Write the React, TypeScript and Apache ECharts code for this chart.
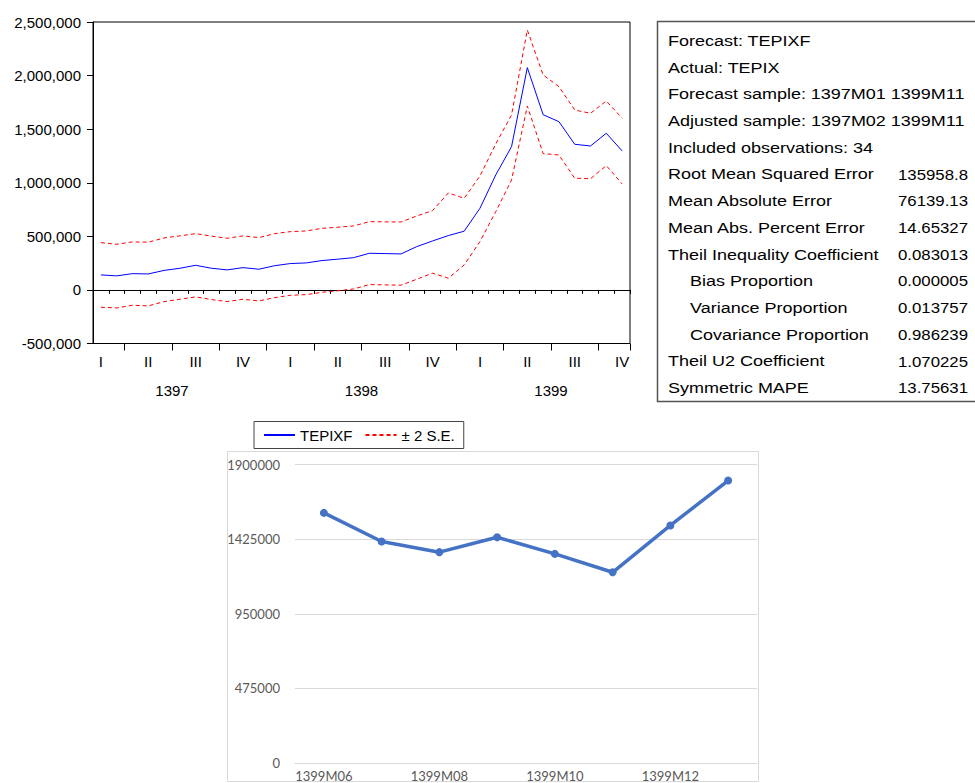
import React, { useEffect, useRef } from "react";
import * as echarts from "echarts";

// ---------- Data ----------
const months = [
  "1397M02", "1397M03", "1397M04", "1397M05", "1397M06", "1397M07", "1397M08", "1397M09", "1397M10", "1397M11", "1397M12",
  "1398M01", "1398M02", "1398M03", "1398M04", "1398M05", "1398M06", "1398M07", "1398M08", "1398M09", "1398M10", "1398M11", "1398M12",
  "1399M01", "1399M02", "1399M03", "1399M04", "1399M05", "1399M06", "1399M07", "1399M08", "1399M09", "1399M10", "1399M11",
];

const forecast = [
  140000, 131000, 152000, 149000, 182000, 202000, 230000, 202000, 187000, 208000, 193000,
  226000, 246000, 252000, 274000, 287000, 301000, 342000, 339000, 336000, 404000, 457000, 507000,
  548000, 762000, 1073000, 1337000, 2074000, 1635000, 1570000, 1359000, 1343000, 1462000, 1297000,
];

const upperBand = [
  441000, 426000, 448000, 445000, 485000, 504000, 525000, 502000, 482000, 504000, 488000,
  525000, 544000, 550000, 575000, 585000, 597000, 637000, 635000, 634000, 690000, 740000, 905000,
  855000, 1063000, 1362000, 1632000, 2425000, 2006000, 1897000, 1679000, 1648000, 1763000, 1602000,
];

const lowerBand = [
  -162000, -168000, -143000, -149000, -109000, -87000, -65000, -90000, -109000, -87000, -103000,
  -72000, -50000, -44000, -22000, -8000, 9000, 50000, 47000, 44000, 100000, 156000, 109000,
  233000, 451000, 730000, 1026000, 1716000, 1272000, 1259000, 1042000, 1038000, 1160000, 989000,
];

const quarterNames = ["I", "II", "III", "IV"];
const yearTicks = [5, 17, 29];
const yearNames = ["1397", "1398", "1399"];

const nextMonths = ["1399M06", "1399M07", "1399M08", "1399M09", "1399M10", "1399M11", "1399M12", "1400M01"];
const nextForecast = [1592000, 1410000, 1342000, 1437000, 1331000, 1214000, 1512000, 1798000];

const statLabels = [
  "Forecast: TEPIXF",
  "Actual: TEPIX",
  "Forecast sample: 1397M01 1399M11",
  "Adjusted sample: 1397M02 1399M11",
  "Included observations: 34",
  "Root Mean Squared Error",
  "Mean Absolute Error",
  "Mean Abs. Percent Error",
  "Theil Inequality Coefficient",
  "Bias Proportion",
  "Variance Proportion",
  "Covariance Proportion",
  "Theil U2 Coefficient",
  "Symmetric MAPE",
];
const statValues = [
  "", "", "", "", "",
  "135958.8", "76139.13", "14.65327", "0.083013", "0.000005", "0.013757", "0.986239", "1.070225", "13.75631",
];
const indentedRows = [9, 10, 11];

// ---------- Styling ----------
const FONT = "'Liberation Sans', Arial, Helvetica, sans-serif";
const XL_FONT = "Lato, 'Open Sans', sans-serif";

export default function App() {
  const ref = useRef<HTMLDivElement>(null);

  useEffect(() => {
    document.body.style.margin = "0";
    if (!ref.current) return;
    const chart = echarts.init(ref.current, undefined, { renderer: "svg" });

    const topGrid = { left: 93, top: 22, width: 537, height: 321.5 };

    const statTexts: any[] = [];
    statLabels.forEach((label, i) => {
      const y = 41 + i * 26.7;
      statTexts.push({
        type: "text",
        x: indentedRows.includes(i) ? 690 : 668,
        y,
        scaleX: 1.2,
        style: { text: label, fontSize: 15, fontFamily: FONT, fill: "#000", verticalAlign: "middle" },
      });
      if (statValues[i]) {
        statTexts.push({
          type: "text",
          x: 898,
          y,
          scaleX: 1.12,
          style: { text: statValues[i], fontSize: 15, fontFamily: FONT, fill: "#000", verticalAlign: "middle" },
        });
      }
    });

    const option: any = {
      animation: false,
      backgroundColor: "#fff",
      grid: [
        { ...topGrid, show: true, borderColor: "#000", borderWidth: 1, backgroundColor: "transparent" },
        { ...topGrid },
        { ...topGrid },
        { left: 295, top: 464.5, width: 462, height: 298.5 },
      ],
      legend: {
        data: ["TEPIXF", "± 2 S.E."],
        left: 254,
        top: 421.5,
        orient: "horizontal",
        borderColor: "#444",
        borderWidth: 1,
        padding: [6, 9, 6, 9],
        itemGap: 12,
        itemWidth: 31,
        itemHeight: 14,
        selectedMode: false,
        itemStyle: { opacity: 0, borderWidth: 0 },
        textStyle: { fontSize: 15, color: "#000", fontFamily: FONT },
      },
      xAxis: [
        {
          gridIndex: 0,
          type: "category",
          data: months,
          boundaryGap: true,
          axisLine: { lineStyle: { color: "#000", width: 1 } },
          axisTick: { show: true, interval: 0, length: 4, lineStyle: { color: "#000" } },
          axisLabel: {
            interval: (i: number) => i % 3 === 0,
            formatter: (v: string) => quarterNames[Math.ceil(parseInt(v.slice(5), 10) / 3) - 1],
            color: "#000",
            fontSize: 15,
            fontFamily: FONT,
            margin: 10,
          },
          splitLine: { show: false },
        },
        {
          gridIndex: 1,
          type: "category",
          data: months,
          boundaryGap: true,
          axisLine: { show: false },
          axisTick: { show: true, interval: (i: number) => i % 3 === 2, length: 7, lineStyle: { color: "#000" } },
          axisLabel: { show: false },
          splitLine: { show: false },
        },
        {
          gridIndex: 2,
          type: "value",
          min: 0,
          max: 34,
          interval: 1,
          axisLine: { show: false },
          axisTick: { show: false },
          splitLine: { show: false },
          axisLabel: {
            formatter: (v: number) => {
              const k = yearTicks.indexOf(v);
              return k >= 0 ? yearNames[k] : "";
            },
            margin: 39,
            fontSize: 15,
            color: "#000",
            fontFamily: FONT,
          },
        },
        {
          gridIndex: 3,
          type: "category",
          data: nextMonths,
          boundaryGap: true,
          axisLine: { lineStyle: { color: "#d9d9d9", width: 1 } },
          axisTick: { show: false },
          axisLabel: { interval: 1, color: "#595959", fontSize: 13, fontFamily: XL_FONT, margin: 6 },
          splitLine: { show: false },
        },
      ],
      yAxis: [
        {
          gridIndex: 0,
          type: "value",
          min: -500000,
          max: 2500000,
          interval: 500000,
          axisLine: { show: true, lineStyle: { color: "#000" } },
          axisTick: { show: true, length: 6, lineStyle: { color: "#000" } },
          axisLabel: {
            formatter: (v: number) => v.toLocaleString("en-US"),
            color: "#000",
            fontSize: 15,
            fontFamily: FONT,
            margin: 12,
          },
          splitLine: { show: false },
        },
        { gridIndex: 1, type: "value", show: false },
        { gridIndex: 2, type: "value", show: false },
        {
          gridIndex: 3,
          type: "value",
          min: 0,
          max: 1900000,
          interval: 475000,
          axisLine: { show: false },
          axisTick: { show: false },
          axisLabel: { formatter: (v: number) => String(v), color: "#595959", fontSize: 13, fontFamily: XL_FONT, margin: 15 },
          splitLine: { lineStyle: { color: "#d9d9d9", width: 1 } },
        },
      ],
      series: [
        {
          name: "± 2 S.E.",
          type: "line",
          xAxisIndex: 0,
          yAxisIndex: 0,
          data: upperBand,
          symbol: "none",
          lineStyle: { color: "#ff0000", width: 1, type: [4, 3] },
          itemStyle: { color: "#ff0000" },
        },
        {
          name: "± 2 S.E.",
          type: "line",
          xAxisIndex: 0,
          yAxisIndex: 0,
          data: lowerBand,
          symbol: "none",
          lineStyle: { color: "#ff0000", width: 1, type: [4, 3] },
          itemStyle: { color: "#ff0000" },
        },
        {
          name: "TEPIXF",
          type: "line",
          xAxisIndex: 0,
          yAxisIndex: 0,
          data: forecast,
          symbol: "none",
          lineStyle: { color: "#0000ff", width: 1 },
          itemStyle: { color: "#0000ff" },
        },
        {
          name: "Forecast",
          type: "line",
          xAxisIndex: 3,
          yAxisIndex: 3,
          data: nextForecast,
          symbol: "circle",
          symbolSize: 8,
          lineStyle: { color: "#4472C4", width: 3.5 },
          itemStyle: { color: "#4472C4" },
        },
      ],
      graphic: [
        {
          type: "rect",
          z: -10,
          shape: { x: 227.5, y: 451.5, width: 531, height: 330 },
          style: { fill: "none", stroke: "#d9d9d9", lineWidth: 1 },
        },
        {
          type: "rect",
          shape: { x: 657.5, y: 21.5, width: 340, height: 380 },
          style: { fill: "#fff", stroke: "#555", lineWidth: 1.5 },
        },
        ...statTexts,
      ],
    };

    chart.setOption(option);
    return () => chart.dispose();
  }, []);

  return <div ref={ref} style={{ position: "fixed", left: 0, top: 0, width: 975, height: 783 }} />;
}
